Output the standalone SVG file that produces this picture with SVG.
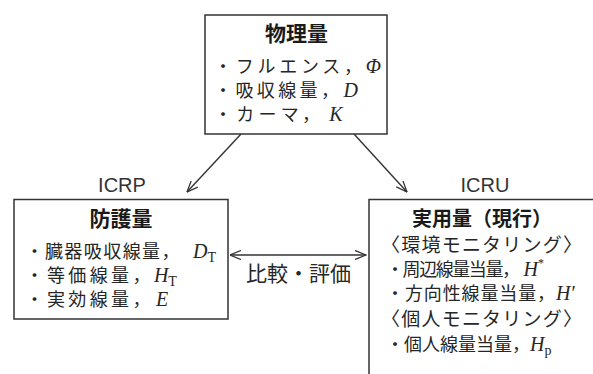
<svg xmlns="http://www.w3.org/2000/svg" width="593" height="374" viewBox="0 0 593 374">
<defs>
<style>
.box{fill:#fff;stroke:#333;stroke-width:1.5}
.t{font-family:"Noto Sans CJK JP","Noto Sans CJK SC",sans-serif;fill:#262626;font-size:18px}
.ti{font-family:"Noto Sans CJK JP","Noto Sans CJK SC",sans-serif;fill:#1a1a1a;font-size:21px;font-weight:bold}
.k{font-size:19px}
.m{font-family:"Liberation Serif","Times New Roman",serif;font-style:italic;font-size:20px}
.s{font-family:"Liberation Serif","Times New Roman",serif;font-style:normal;font-size:14px}
.sp{font-family:"Liberation Serif","Times New Roman",serif;font-style:normal;font-size:12px}
.lab{font-family:"Liberation Sans",Arial,sans-serif;font-size:20px;fill:#333}
.c{fill:none;stroke:#333;stroke-width:1.4}
</style>
<marker id="ah" viewBox="0 0 12 10" refX="11.5" refY="5" markerWidth="12" markerHeight="10" markerUnits="userSpaceOnUse" orient="auto-start-reverse">
<path d="M0.5,0.5 L11.5,5 L0.5,9.5" fill="none" stroke="#333" stroke-width="1.3"/>
</marker>
</defs>
<rect width="593" height="374" fill="#fff"/>

<g id="physical">
<rect class="box" x="205" y="15" width="182" height="119"/>
<text class="ti" x="296.5" y="41" text-anchor="middle">物理量</text>
<text class="t" x="214" y="73"><tspan textLength="148">・フルエンス，</tspan><tspan class="m">Φ</tspan></text>
<text class="t" x="214" y="97"><tspan textLength="125">・吸収線量，</tspan><tspan class="m" dx="1">D</tspan></text>
<text class="t" x="214" y="121"><tspan textLength="106">・カーマ，</tspan><tspan class="m" dx="5">K</tspan></text>
</g>

<g id="protection">
<text class="lab" x="122" y="192" text-anchor="middle">ICRP</text>
<rect class="box" x="14" y="199.5" width="214" height="119.5"/>
<text class="ti" x="121" y="226" text-anchor="middle">防護量</text>
<text class="t" x="25.5" y="258"><tspan textLength="154">・臓器吸収線量，</tspan><tspan class="m" dx="12">D</tspan><tspan class="s" dy="4">T</tspan></text>
<text class="t" x="25.5" y="282"><tspan textLength="125">・等価線量，</tspan><tspan class="m">H</tspan><tspan class="s" dy="4">T</tspan></text>
<text class="t" x="25.5" y="306"><tspan textLength="125">・実効線量，</tspan><tspan class="m" dx="2">E</tspan></text>
</g>

<g id="operational">
<text class="lab" x="485" y="192" text-anchor="middle">ICRU</text>
<rect class="box" x="369" y="199.5" width="240" height="200"/>
<text class="ti" x="412" y="226" style="font-size:20px">実用量（現行）</text>
<text class="t k" x="381" y="252" textLength="201">〈環境モニタリング〉</text>
<text class="t" x="386" y="276"><tspan textLength="134">・周辺線量当量，</tspan><tspan class="m" dx="5">H</tspan><tspan class="sp" dy="-9">*</tspan></text>
<text class="t" x="386" y="300"><tspan textLength="169">・方向性線量当量，</tspan><tspan class="m">H′</tspan></text>
<text class="t k" x="381" y="326" textLength="201">〈個人モニタリング〉</text>
<text class="t" x="386" y="351"><tspan textLength="144">・個人線量当量，</tspan><tspan class="m">H</tspan><tspan class="s" dy="4">p</tspan></text>
</g>

<g id="connectors">
<line class="c" x1="241" y1="134" x2="187" y2="192" marker-end="url(#ah)"/>
<line class="c" x1="354" y1="134" x2="407" y2="192" marker-end="url(#ah)"/>
<line class="c" x1="230" y1="255" x2="366" y2="255" marker-start="url(#ah)" marker-end="url(#ah)"/>
<text class="t" x="246" y="281" style="font-size:21px">比較・評価</text>
</g>
</svg>
